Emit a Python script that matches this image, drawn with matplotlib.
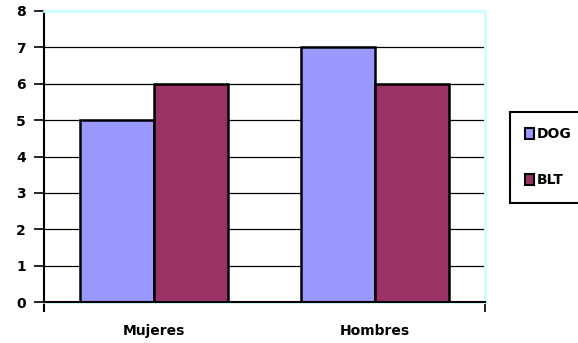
import numpy as np
import matplotlib.pyplot as plt
from matplotlib.patches import Patch

# data
categories = ["Mujeres", "Hombres"]
dog = [5, 7]
blt = [6, 6]
series_names = ["DOG", "BLT"]

dog_color = "#9999ff"
blt_color = "#993366"

fig = plt.figure(figsize=(5.78, 3.43), dpi=100)
ax = fig.add_axes([44 / 578, 1 - 302 / 343, 441 / 578, 291 / 343])

x = np.arange(len(categories))
w = 0.336

ax.bar(x - w / 2, dog, w, color=dog_color, edgecolor="black", linewidth=1.8, zorder=3)
ax.bar(x + w / 2, blt, w, color=blt_color, edgecolor="black", linewidth=1.8, zorder=3)

ax.set_xlim(-0.5, 1.5)
ax.set_ylim(0, 8)
ax.set_yticks(range(0, 9))
ax.yaxis.grid(True, color="black", linewidth=0.9, zorder=0)

# category labels without marks, ticks only at the outer edges
ax.set_xticks(x)
ax.set_xticklabels(categories, fontsize=10, fontweight="bold")
ax.tick_params(axis="x", which="major", length=0, pad=16)
ax.set_xticks([-0.5, 1.5], minor=True)
ax.tick_params(axis="x", which="minor", length=7, width=1.2, direction="out")
ax.tick_params(axis="y", length=7, width=1.2, direction="out", labelsize=10, pad=6)
for lab in ax.get_yticklabels():
    lab.set_fontweight("bold")

for s in ["top", "right", "bottom"]:
    ax.spines[s].set_color("#ccffff")
    ax.spines[s].set_linewidth(2)
ax.spines["left"].set_linewidth(1.5)
ax.spines["left"].set_bounds(-0.25, 8)
ax.axhline(0, color="black", linewidth=1.5, zorder=4, clip_on=False)

handles = [Patch(facecolor=dog_color, edgecolor="black", linewidth=1.5),
           Patch(facecolor=blt_color, edgecolor="black", linewidth=1.5)]
leg = fig.legend(handles, series_names, loc="upper left",
                 bbox_to_anchor=(510 / 578, 1 - 112 / 343), borderaxespad=0,
                 prop={"size": 10, "weight": "bold"},
                 handlelength=0.6, handleheight=0.9, handletextpad=0.2,
                 labelspacing=2.3, borderpad=1.1, fancybox=False,
                 edgecolor="black", framealpha=1)
leg.get_frame().set_linewidth(1.5)

fig.savefig("out.png", dpi=100)
